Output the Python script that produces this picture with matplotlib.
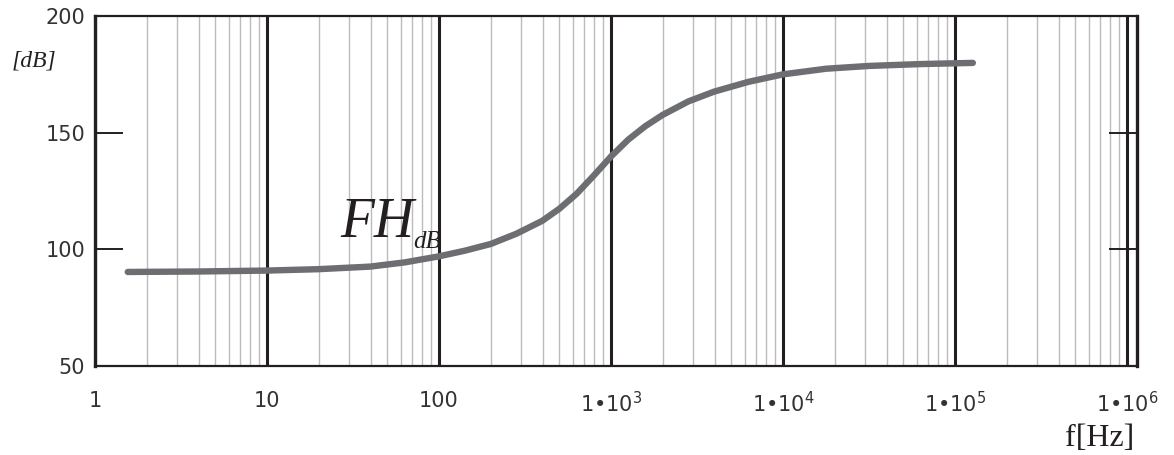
import matplotlib
matplotlib.use('Agg')
import matplotlib.pyplot as plt
from matplotlib.ticker import LogLocator, FixedLocator, NullFormatter

# curve (frequency in Hz, level in dB)
freq = [1.55, 3.98, 10, 20, 39.8, 63.1, 100, 141, 200, 282, 398, 501, 631, 794,
        1000, 1259, 1585, 1995, 2818, 3981, 6310, 10000, 17783, 31623, 63096, 127000]
level = [90.3, 90.5, 90.9, 91.5, 92.6, 94.4, 97.0, 99.4, 102.3, 106.7, 112.2, 117.4, 123.8, 131.6,
         139.8, 147.0, 152.8, 157.6, 163.4, 167.6, 171.8, 175.0, 177.4, 178.6, 179.4, 179.9]

xticks = [1, 10, 100, 1e3, 1e4, 1e5, 1e6]
xtick_labels = ['1', '10', '100', r'1•10$^{3}$', r'1•10$^{4}$', r'1•10$^{5}$', r'1•10$^{6}$']
yticks = [50, 100, 150, 200]

W, H = 1174, 455
fig = plt.figure(figsize=(W / 100, H / 100), dpi=100)
ax = fig.add_axes([95 / W, (H - 366) / H, (1137 - 95) / W, 350 / H])

ax.set_xscale('log')
ax.set_xlim(1, 10 ** (1042 / 172))
ax.set_ylim(50, 200)

# decade lines and minor lines
ax.xaxis.set_major_locator(FixedLocator(xticks))
ax.xaxis.set_minor_locator(LogLocator(base=10, subs=range(2, 10), numticks=20))
ax.xaxis.set_minor_formatter(NullFormatter())
ax.grid(axis='x', which='major', color='#231f20', lw=2.2)
ax.grid(axis='x', which='minor', color='#bcbcbe', lw=1.0)
ax.set_axisbelow(True)

ax.plot(freq, level, color='#6d6e71', lw=4.6, solid_capstyle='round',
        solid_joinstyle='round', zorder=3)

ax.set_xticks(xticks)
ax.set_xticklabels(xtick_labels)
ax.set_yticks(yticks)
ax.tick_params(axis='x', which='both', length=0, pad=18, labelsize=15, labelcolor='#333333')
ax.tick_params(axis='y', direction='in', length=20, width=1.4, color='#231f20',
               left=True, right=True, pad=7, labelsize=15, labelcolor='#333333')

for side in ['left', 'right']:
    ax.spines[side].set_linewidth(2.4)
    ax.spines[side].set_color('#231f20')
for side in ['top', 'bottom']:
    ax.spines[side].set_linewidth(1.6)
    ax.spines[side].set_color('#231f20')

serif = 'Liberation Serif'
fig.text(12 / W, (H - 66) / H, '[dB]', family=serif, style='italic', fontsize=17, color='#231f20')
fig.text(1065 / W, (H - 446) / H, 'f[Hz]', family=serif, fontsize=23, color='#231f20')
fig.text(340 / W, (H - 237) / H, 'FH', family=serif, style='italic', fontsize=40, color='#231f20')
fig.text(413 / W, (H - 248) / H, 'dB', family=serif, style='italic', fontsize=18, color='#231f20')

fig.savefig('out.png', dpi=100)
